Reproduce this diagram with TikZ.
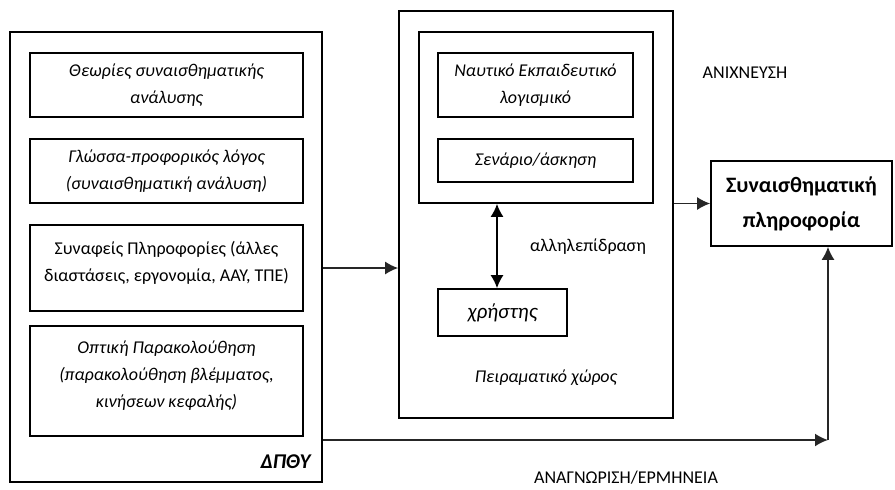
\documentclass[tikz,border=0pt]{standalone}
\usepackage{fontspec}
\setmainfont{Carlito}
\usepackage{tikz}
\usetikzlibrary{positioning}
\usetikzlibrary{arrows.meta,calc}
\def\u{0.5pt}
\tikzstyle{frame}=[draw,line width=0.8pt,inner sep=0pt]
\tikzstyle{box}=[frame,align=center,font=\fontsize{9}{13.5}\selectfont\itshape]
\tikzstyle{plainbox}=[frame,align=center,font=\fontsize{9}{13.5}\selectfont]
\tikzstyle{tag}=[inner sep=0pt,font=\fontsize{9}{13.5}\selectfont]
\tikzstyle{flow}=[-{Latex[length=6.5pt,width=6.5pt]},line width=0.9pt,black!85]

\begin{document}
\begin{tikzpicture}[x=0.5pt,y=-0.5pt]
\useasboundingbox (0,0) rectangle (895,489);

%DPTHY
    \node[frame,minimum width={312*\u},minimum height={450*\u}] (dpthy) at (166,257) {};
    \node[tag,font=\fontsize{10.5}{12}\selectfont\bfseries\itshape,anchor=east] (dpthylabel) at (311,462) {ΔΠΘΥ};

    \foreach \pos/\name/\h/\label in {{(166.5,85)/theories/64/{Θεωρίες συναισθηματικής\\ανάλυσης}},
        {(166.5,171)/glossa/64/{Γλώσσα-προφορικός λόγος\\(συναισθηματική ανάλυση)}},
        {(166.5,381)/optiki/110/{Οπτική Παρακολούθηση\\(παρακολούθηση βλέμματος,\\κινήσεων κεφαλής)\\[-7pt]\mbox{}}}}
        \node[box,minimum width={273*\u},minimum height={\h*\u}] (\name) at \pos {\label};
    \node[plainbox,minimum width={273*\u},minimum height={86*\u}] (synafeis) at (166.5,268)
        {Συναφείς Πληροφορίες (άλλες\\διαστάσεις, εργονομία, ΑΑΥ, ΤΠΕ)\\[-7pt]\mbox{}};

%Peirama
    \node[frame,minimum width={274*\u},minimum height={407*\u}] (peirama) at (536,214.5) {};
    \node[frame,minimum width={234*\u},minimum height={171*\u}] (logismiko) at (536,117.5) {};
    \node[box,minimum width={195*\u},minimum height={64*\u}] (nel) at (535.5,85) {Ναυτικό Εκπαιδευτικό\\λογισμικό};
    \node[box,minimum width={195*\u},minimum height={43*\u}] (senario) at (535.5,160.5) {Σενάριο/άσκηση};
    \node[box,minimum width={129*\u},minimum height={47*\u},font=\fontsize{10.5}{13}\selectfont\itshape] (xristis) at (502.5,312.5) {χρήστης};
    \node[tag] (interaction) at (588,247) {αλληλεπίδραση};
    \node[tag,font=\fontsize{9}{13.5}\selectfont\itshape] (space) at (546,378) {Πειραματικό χώρος};

    \coordinate (link) at (497,250);
    \draw[{Latex[length=6.5pt,width=6.5pt]}-{Latex[length=6.5pt,width=6.5pt]},line width=0.9pt] (logismiko.south -| link) -- (xristis.north -| link);

%Pliroforia
    \node[frame,minimum width={181*\u},minimum height={85*\u},align=center,font=\fontsize{11}{17.5}\selectfont\bfseries] (pliroforia) at (801.5,203.5) {Συναισθηματική\\πληροφορία};
    \node[tag] (detect) at (745,73) {ΑΝΙΧΝΕΥΣΗ};
    \node[tag] (recognition) at (626,478) {ΑΝΑΓΝΩΡΙΣΗ/ΕΡΜΗΝΕΙΑ};

    \coordinate (corner) at (828,440);
    \draw[flow] (dpthy.east |- synafeis) -- (peirama.west |- synafeis);
    \draw[flow] (peirama.east |- pliroforia) -- (pliroforia.west);
    \draw[flow] (dpthy.east |- corner) -- (corner);
    \draw[flow] (corner) -- (pliroforia.south -| corner);

\end{tikzpicture}
\end{document}
